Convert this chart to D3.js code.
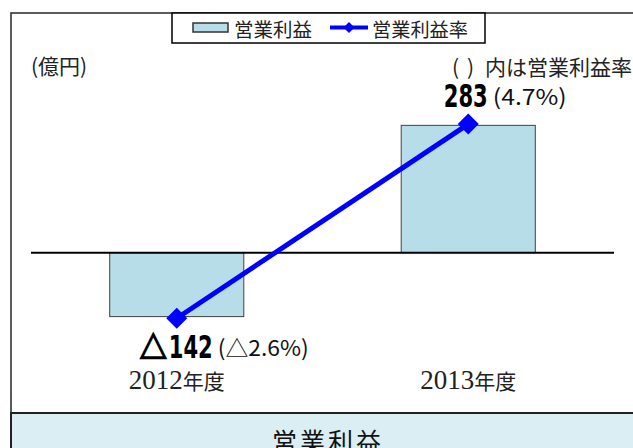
<!DOCTYPE html>
<html>
<head>
<meta charset="utf-8">
<script src="https://cdn.jsdelivr.net/npm/d3@7"></script>
<style>
  body { margin: 0; background: #fff; }
  svg { display: block; }
</style>
</head>
<body>
<div id="chart"></div>
<script>
// chart values
const tickLabels = ["2012年度", "2013年度"];
const profit = [-142, 283];          // 営業利益 (億円)
const profitRate = [-2.6, 4.7];      // 営業利益率 (%)
const seriesNames = ["営業利益", "営業利益率"];
const unitLabel = "(億円)";
const noteLabel = ["(", ")", "内は営業利益率"];
const panelTitle = "営業利益";

const W = 633, H = 448;
const cjk = "'Noto Sans CJK JP', sans-serif";
const narrow = "'Liberation Sans Narrow', 'DejaVu Sans Condensed', 'Liberation Sans', sans-serif";
const barFill = "#b7dee8";
const lineBlue = "#0000ff";

const svg = d3.select("#chart").append("svg")
    .attr("width", W)
    .attr("height", H);

// outer frame
svg.append("rect")
    .attr("x", 11).attr("y", 13)
    .attr("width", W + 20).attr("height", H + 20)
    .attr("fill", "#fff")
    .attr("stroke", "#333")
    .attr("stroke-width", 1.6);

// scales
const x = d3.scaleBand()
    .domain(tickLabels)
    .range([31, 614]);

const y = d3.scaleLinear()
    .domain([-200, 400])
    .range([342.7, 72.7]);

const yRate = d3.scaleLinear()
    .domain([-4, 8])
    .range([355.5, 36.3]);

const barW = x.bandwidth() * 0.46;
const cx = d => x(d) + x.bandwidth() / 2;

// bars
svg.selectAll(".bar")
    .data(tickLabels)
    .enter().append("rect")
    .attr("class", "bar")
    .attr("x", d => cx(d) - barW / 2)
    .attr("y", (d, i) => y(Math.max(0, profit[i])))
    .attr("width", barW)
    .attr("height", (d, i) => Math.abs(y(profit[i]) - y(0)))
    .attr("fill", barFill)
    .attr("stroke", "#404040")
    .attr("stroke-width", 1);

// zero line
svg.append("line")
    .attr("x1", x.range()[0]).attr("x2", x.range()[1])
    .attr("y1", y(0)).attr("y2", y(0))
    .attr("stroke", "#000")
    .attr("stroke-width", 2);

// rate line
const line = d3.line()
    .x((d, i) => cx(tickLabels[i]))
    .y(d => yRate(d));

svg.append("path")
    .datum(profitRate)
    .attr("d", line)
    .attr("fill", "none")
    .attr("stroke", lineBlue)
    .attr("stroke-width", 5);

const diamond = d3.symbol().type(d3.symbolSquare).size(220);
svg.selectAll(".marker")
    .data(profitRate)
    .enter().append("path")
    .attr("class", "marker")
    .attr("d", diamond)
    .attr("transform", (d, i) => `translate(${cx(tickLabels[i])},${yRate(d)}) rotate(45)`)
    .attr("fill", lineBlue);

// value labels
const fmtRate = v => "(" + (v < 0 ? "△" + Math.abs(v) : v) + "%)";

profit.forEach((v, i) => {
    const px = cx(tickLabels[i]);
    const py = yRate(profitRate[i]);
    let base, start;
    if (v < 0) { base = py + 40; start = px - 37; }
    else { base = py - 17; start = px - 24.5; }

    let xx = start;
    if (v < 0) {
        svg.append("text")
            .attr("x", xx).attr("y", base)
            .attr("font-family", cjk)
            .attr("font-weight", 700)
            .attr("font-size", 30)
            .attr("textLength", 27)
            .attr("lengthAdjust", "spacingAndGlyphs")
            .attr("stroke", "#000")
            .attr("stroke-width", 1.6)
            .text("△");
        xx += 29;
    }
    svg.append("text")
        .attr("x", xx).attr("y", base)
        .attr("font-family", narrow)
        .attr("font-weight", 700)
        .attr("font-size", 32)
        .attr("textLength", 44)
        .attr("lengthAdjust", "spacingAndGlyphs")
        .text(String(Math.abs(v)));
    xx += 49;

    svg.append("text")
        .attr("x", xx).attr("y", base - 2)
        .attr("font-family", cjk)
        .attr("font-size", 22)
        .attr("textLength", v < 0 ? 91 : 74)
        .attr("lengthAdjust", "spacingAndGlyphs")
        .attr("fill", "#111")
        .text(fmtRate(profitRate[i]));
});

// category labels
tickLabels.forEach(d => {
    const m = d.match(/^(\d+)(.*)$/);
    const t = svg.append("text")
        .attr("x", cx(d)).attr("y", 389)
        .attr("text-anchor", "middle")
        .attr("fill", "#222");
    t.append("tspan")
        .attr("font-family", "'Liberation Serif', serif")
        .attr("font-size", 27)
        .text(m[1]);
    t.append("tspan")
        .attr("font-family", cjk)
        .attr("font-size", 21)
        .text(m[2]);
});

// unit and note
svg.append("text")
    .attr("x", 31).attr("y", 74)
    .attr("font-family", cjk)
    .attr("font-size", 21)
    .attr("fill", "#222")
    .text(unitLabel);

[[452, noteLabel[0]], [467, noteLabel[1]], [485, noteLabel[2]]].forEach(([nx, s]) => {
    svg.append("text")
        .attr("x", nx).attr("y", 75)
        .attr("font-family", cjk)
        .attr("font-size", 21)
        .attr("fill", "#222")
        .text(s);
});

// legend
const legend = svg.append("g").attr("class", "legend");
legend.append("rect")
    .attr("x", 172).attr("y", 13)
    .attr("width", 313).attr("height", 30)
    .attr("fill", "#fff")
    .attr("stroke", "#000")
    .attr("stroke-width", 1.5);
legend.append("rect")
    .attr("x", 193).attr("y", 23)
    .attr("width", 35).attr("height", 9)
    .attr("fill", barFill)
    .attr("stroke", "#333")
    .attr("stroke-width", 1.5);
legend.append("text")
    .attr("x", 234).attr("y", 36.5)
    .attr("font-family", cjk)
    .attr("font-size", 19.5)
    .attr("textLength", 78)
    .attr("lengthAdjust", "spacingAndGlyphs")
    .attr("fill", "#222")
    .text(seriesNames[0]);
legend.append("line")
    .attr("x1", 330).attr("x2", 368)
    .attr("y1", 27.5).attr("y2", 27.5)
    .attr("stroke", lineBlue)
    .attr("stroke-width", 4);
legend.append("path")
    .attr("d", d3.symbol().type(d3.symbolSquare).size(60))
    .attr("transform", "translate(349,27.5) rotate(45)")
    .attr("fill", lineBlue);
legend.append("text")
    .attr("x", 372).attr("y", 36.5)
    .attr("font-family", cjk)
    .attr("font-size", 19.5)
    .attr("textLength", 96)
    .attr("lengthAdjust", "spacingAndGlyphs")
    .attr("fill", "#222")
    .text(seriesNames[1]);

// bottom title panel
svg.append("rect")
    .attr("x", 11).attr("y", 413)
    .attr("width", W + 20).attr("height", 60)
    .attr("fill", "#daeef3")
    .attr("stroke", "#222")
    .attr("stroke-width", 2);
svg.append("text")
    .attr("x", 328).attr("y", 451)
    .attr("text-anchor", "middle")
    .attr("font-family", cjk)
    .attr("font-size", 25)
    .attr("letter-spacing", 3)
    .attr("fill", "#111")
    .text(panelTitle);
</script>
</body>
</html>
